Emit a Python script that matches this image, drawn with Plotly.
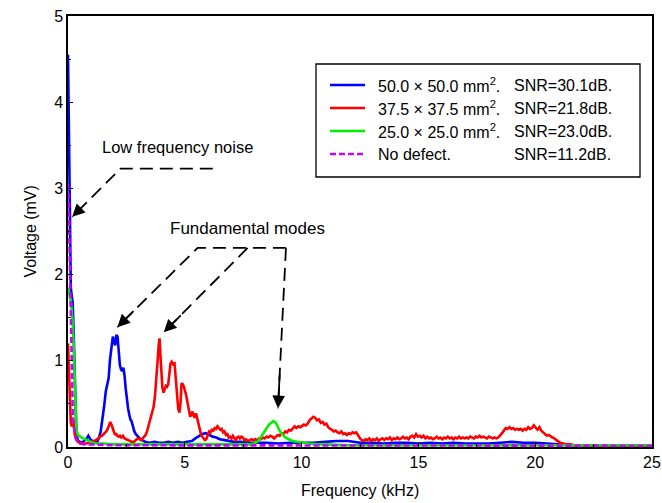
import plotly.graph_objects as go

# ---------------- spectra (frequency in kHz, voltage in mV) ----------------
blue_f = [0.00, 0.04, 0.08, 0.12, 0.16, 0.20, 0.24, 0.28, 0.32, 0.36, 0.42, 0.50, 0.60, 0.70,
          0.80, 0.87, 0.95, 1.05, 1.15, 1.25, 1.32, 1.40, 1.47, 1.55, 1.62, 1.68, 1.74, 1.80,
          1.86, 1.92, 1.97, 2.02, 2.07, 2.12, 2.17, 2.22, 2.27, 2.32, 2.37, 2.42, 2.47, 2.52,
          2.57, 2.62, 2.67, 2.72, 2.78, 2.84, 2.90, 2.96, 3.02, 3.10, 3.18, 3.30, 3.50, 3.70,
          3.90, 4.10, 4.30, 4.50, 4.70, 4.90, 5.10, 5.30, 5.45, 5.60, 5.75, 5.90, 6.05, 6.20,
          6.35, 6.50, 6.70, 6.90, 7.10, 7.40, 7.70, 8.00, 8.50, 9.00, 9.50, 10.0, 10.5, 11.0,
          11.5, 12.0, 12.5, 13.0, 13.5, 14.0, 14.5, 15.0, 15.5, 16.0, 16.5, 17.0, 17.5, 18.0,
          18.5, 19.0, 19.5, 20.0, 20.5, 21.0, 21.5, 22.0, 23.0, 24.0, 25.0]
blue_v = [4.55, 3.70, 2.70, 1.85, 1.75, 1.68, 1.35, 0.85, 0.40, 0.15, 0.08, 0.06, 0.05, 0.07,
          0.10, 0.13, 0.09, 0.07, 0.06, 0.06, 0.10, 0.18, 0.30, 0.48, 0.65, 0.74, 0.80, 1.02,
          1.18, 1.28, 1.22, 1.18, 1.30, 1.28, 1.12, 0.95, 0.90, 0.88, 0.92, 0.83, 0.68, 0.55,
          0.45, 0.38, 0.32, 0.30, 0.22, 0.18, 0.15, 0.13, 0.12, 0.09, 0.08, 0.06, 0.05, 0.06,
          0.05, 0.05, 0.06, 0.05, 0.06, 0.05, 0.06, 0.07, 0.10, 0.13, 0.15, 0.16, 0.14, 0.12,
          0.11, 0.09, 0.08, 0.07, 0.06, 0.06, 0.05, 0.05, 0.05, 0.04, 0.05, 0.05, 0.05, 0.06,
          0.07, 0.07, 0.05, 0.05, 0.04, 0.05, 0.05, 0.04, 0.05, 0.04, 0.05, 0.04, 0.04, 0.04,
          0.05, 0.06, 0.05, 0.05, 0.04, 0.03, 0.02, 0.02, 0.02, 0.02, 0.02]

red_f = [0.00, 0.04, 0.08, 0.12, 0.16, 0.20, 0.24, 0.28, 0.34, 0.42, 0.50, 0.60, 0.70, 0.80,
         0.90, 1.00, 1.10, 1.20, 1.30, 1.37, 1.45, 1.52, 1.58, 1.64, 1.70, 1.76, 1.81, 1.86,
         1.91, 1.96, 2.01, 2.06, 2.11, 2.17, 2.22, 2.28, 2.35, 2.42, 2.50, 2.58, 2.66, 2.74,
         2.82, 2.90, 2.98, 3.06, 3.14, 3.22, 3.30, 3.38, 3.45, 3.52, 3.59, 3.66, 3.72, 3.78,
         3.83, 3.88, 3.92, 3.96, 4.00, 4.04, 4.09, 4.14, 4.19, 4.24, 4.29, 4.34, 4.39, 4.44,
         4.50, 4.56, 4.62, 4.67, 4.72, 4.77, 4.82, 4.86, 4.91, 4.96, 5.01, 5.06, 5.12, 5.17,
         5.23, 5.28, 5.33, 5.38, 5.43, 5.48, 5.53, 5.58, 5.64, 5.69, 5.75, 5.80, 5.86, 5.92,
         5.98, 6.04, 6.10, 6.16, 6.22, 6.28, 6.34, 6.40, 6.46, 6.52, 6.58, 6.64, 6.70, 6.76,
         6.82, 6.88, 6.94, 7.00, 7.06, 7.12, 7.18, 7.24, 7.30, 7.36, 7.42, 7.48, 7.55, 7.62,
         7.70, 7.78, 7.86, 7.94, 8.02, 8.10, 8.18, 8.26, 8.34, 8.42, 8.50, 8.58, 8.66, 8.74,
         8.82, 8.90, 8.98, 9.06, 9.14, 9.22, 9.30, 9.38, 9.46, 9.54, 9.62, 9.70, 9.78, 9.86,
         9.94, 10.02, 10.10, 10.18, 10.26, 10.34, 10.42, 10.50, 10.58, 10.66, 10.74, 10.82,
         10.90, 10.98, 11.06, 11.14, 11.22, 11.30, 11.38, 11.46, 11.54, 11.62, 11.70, 11.78,
         11.86, 11.94, 12.02, 12.10, 12.18, 12.26, 12.34, 12.42, 12.50, 12.58, 12.66, 12.74,
         12.82, 12.90, 12.98, 13.06, 13.14, 13.22, 13.30, 13.38, 13.46, 13.54, 13.62, 13.70,
         13.78, 13.86, 13.94, 14.02, 14.10, 14.18, 14.26, 14.34, 14.42, 14.50, 14.58, 14.66,
         14.74, 14.82, 14.90, 14.98, 15.06, 15.14, 15.22, 15.30, 15.38, 15.46, 15.54, 15.62,
         15.70, 15.78, 15.86, 15.94, 16.02, 16.10, 16.18, 16.26, 16.34, 16.42, 16.50, 16.58,
         16.66, 16.74, 16.82, 16.90, 16.98, 17.06, 17.14, 17.22, 17.30, 17.38, 17.46, 17.54,
         17.62, 17.70, 17.78, 17.86, 17.94, 18.02, 18.10, 18.18, 18.26, 18.34, 18.42, 18.50,
         18.58, 18.66, 18.74, 18.82, 18.90, 18.98, 19.06, 19.14, 19.22, 19.30, 19.38, 19.46,
         19.54, 19.62, 19.70, 19.78, 19.86, 19.94, 20.02, 20.10, 20.18, 20.26, 20.34, 20.42,
         20.50, 20.58, 20.66, 20.74, 20.82, 20.90, 20.98, 21.06, 21.20, 21.35, 21.50, 21.70,
         22.0, 22.5, 23.0, 24.0, 25.0]
red_v = [1.20, 0.85, 0.50, 0.28, 0.24, 0.34, 0.30, 0.16, 0.09, 0.06, 0.05, 0.04, 0.04, 0.04,
         0.05, 0.06, 0.07, 0.08, 0.10, 0.12, 0.13, 0.15, 0.17, 0.18, 0.21, 0.26, 0.29, 0.26,
         0.21, 0.17, 0.14, 0.16, 0.13, 0.12, 0.13, 0.11, 0.13, 0.10, 0.09, 0.08, 0.07, 0.06,
         0.06, 0.08, 0.10, 0.09, 0.08, 0.11, 0.13, 0.18, 0.25, 0.31, 0.37, 0.46, 0.58, 0.75,
         0.98, 1.18, 1.26, 1.05, 0.82, 0.69, 0.63, 0.66, 0.71, 0.70, 0.73, 0.85, 0.97, 0.99,
         0.96, 0.97, 0.80, 0.60, 0.44, 0.40, 0.52, 0.74, 0.73, 0.70, 0.66, 0.60, 0.51, 0.42,
         0.35, 0.38, 0.41, 0.36, 0.34, 0.39, 0.33, 0.27, 0.20, 0.15, 0.12, 0.10, 0.08, 0.09,
         0.14, 0.18, 0.17, 0.20, 0.19, 0.22, 0.21, 0.24, 0.22, 0.20, 0.21, 0.17, 0.18, 0.14,
         0.15, 0.11, 0.12, 0.10, 0.13, 0.11, 0.08, 0.11, 0.12, 0.10, 0.12, 0.11, 0.08, 0.09,
         0.07, 0.08, 0.09, 0.08, 0.09, 0.08, 0.10, 0.09, 0.11, 0.10, 0.12, 0.11, 0.13, 0.12,
         0.10, 0.12, 0.14, 0.13, 0.16, 0.15, 0.18, 0.17, 0.20, 0.19, 0.22, 0.24, 0.22, 0.24,
         0.23, 0.25, 0.26, 0.25, 0.27, 0.31, 0.33, 0.35, 0.34, 0.31, 0.32, 0.28,
         0.29, 0.26, 0.27, 0.23, 0.21, 0.20, 0.18, 0.19, 0.17, 0.16, 0.18, 0.15,
         0.16, 0.14, 0.16, 0.15, 0.17, 0.16, 0.17, 0.13, 0.10, 0.08, 0.07, 0.09,
         0.08, 0.10, 0.07, 0.09, 0.08, 0.10, 0.07, 0.09, 0.10, 0.08, 0.10, 0.09,
         0.11, 0.08, 0.10, 0.09, 0.11, 0.09, 0.10, 0.12, 0.10, 0.11, 0.09, 0.12,
         0.13, 0.11, 0.15, 0.12, 0.13, 0.11, 0.13, 0.10, 0.12, 0.10, 0.11, 0.09,
         0.10, 0.12, 0.10, 0.11, 0.09, 0.11, 0.10, 0.12, 0.10, 0.11, 0.09, 0.11,
         0.10, 0.12, 0.10, 0.11, 0.10, 0.11, 0.10, 0.12, 0.11, 0.10, 0.12, 0.11,
         0.13, 0.11, 0.12, 0.11, 0.10, 0.12, 0.11, 0.10, 0.11, 0.10, 0.11, 0.13,
         0.16, 0.19, 0.22, 0.21, 0.23, 0.21, 0.22, 0.20, 0.21, 0.20, 0.21, 0.19,
         0.21, 0.20, 0.23, 0.21, 0.22, 0.25, 0.22, 0.20, 0.23, 0.19, 0.17, 0.15,
         0.13, 0.14, 0.12, 0.11, 0.10, 0.08, 0.06, 0.05, 0.04, 0.03, 0.03, 0.02,
         0.02, 0.015, 0.01, 0.01, 0.01]

green_f = [0.00, 0.04, 0.08, 0.12, 0.16, 0.20, 0.24, 0.28, 0.32, 0.36, 0.42, 0.50, 0.58, 0.66,
           0.74, 0.82, 0.92, 1.05, 1.20, 1.50, 2.00, 3.00, 4.00, 5.00, 6.00, 7.00, 7.60, 7.80,
           7.95, 8.10, 8.20, 8.30, 8.40, 8.50, 8.60, 8.70, 8.78, 8.86, 8.94, 9.02, 9.10, 9.20,
           9.30, 9.45, 9.60, 9.80, 10.0, 10.3, 10.6, 11.0, 12.0, 14.0, 16.0, 18.0, 20.0, 22.0,
           25.0]
green_v = [1.85, 1.76, 1.74, 1.70, 1.60, 1.45, 1.20, 0.75, 0.35, 0.20, 0.14, 0.12, 0.11, 0.10,
           0.09, 0.08, 0.06, 0.05, 0.04, 0.04, 0.03, 0.03, 0.03, 0.03, 0.03, 0.03, 0.03, 0.03,
           0.04, 0.06, 0.09, 0.13, 0.18, 0.22, 0.26, 0.28, 0.30, 0.29, 0.26, 0.21, 0.17, 0.14,
           0.11, 0.09, 0.07, 0.06, 0.05, 0.04, 0.03, 0.03, 0.02, 0.02, 0.02, 0.02, 0.02, 0.02,
           0.02]

magenta_f = [0.00, 0.03, 0.06, 0.09, 0.12, 0.15, 0.18, 0.21, 0.24, 0.28, 0.32, 0.36, 0.42,
             0.50, 0.70, 1.00, 2.00, 5.00, 10.0, 15.0, 20.0, 25.0]
magenta_v = [3.05, 2.85, 2.40, 1.95, 1.45, 0.95, 0.55, 0.32, 0.24, 0.19, 0.14, 0.09, 0.06,
             0.04, 0.03, 0.03, 0.02, 0.02, 0.015, 0.015, 0.015, 0.015]

series_labels = ["50.0 × 50.0 mm<sup>2</sup>.", "37.5 × 37.5 mm<sup>2</sup>.",
                 "25.0 × 25.0 mm<sup>2</sup>.", "No defect."]
snr_labels = ["SNR=30.1dB.", "SNR=21.8dB.", "SNR=23.0dB.", "SNR=11.2dB."]
colors = ["#0000ff", "#ff0000", "#00f000", "#cc00ff"]
dashes = ["solid", "solid", "solid", "6px,3px"]

x_ticks = [0, 5, 10, 15, 20, 25]
y_ticks = [0, 1, 2, 3, 4, 5]

FONT = "Liberation Sans, Arial, sans-serif"

fig = go.Figure()
for f, v, c, d in zip([blue_f, red_f, green_f, magenta_f],
                      [blue_v, red_v, green_v, magenta_v], colors, dashes):
    fig.add_trace(go.Scatter(x=f, y=v, mode="lines",
                             line=dict(color=c, width=2.6, dash=d),
                             showlegend=False, hoverinfo="skip"))

# ---------------- dashed leader lines with arrowheads ----------------
leader = dict(color="black", width=1.8, dash="13px,7px")
leaders = [
    ([6.2, 2.25, 0.18], [3.23, 3.23, 2.67]),
    ([9.33, 5.55, 2.11], [2.31, 2.31, 1.39]),
    ([7.69, 4.10], [2.31, 1.33]),
    ([9.33, 8.99], [2.31, 0.45]),
]
for xs, ys in leaders:
    path = "M " + " L ".join(f"{a},{b}" for a, b in zip(xs, ys))
    fig.add_shape(type="path", path=path, xref="x", yref="y", line=leader)
    # arrowhead on the last segment
    tx, ty = xs[-1], ys[-1]
    px, py = xs[-2], ys[-2]
    fig.add_annotation(x=tx, y=ty, ax=tx + 0.22 * (px - tx), ay=ty + 0.22 * (py - ty),
                       xref="x", yref="y", axref="x", ayref="y", text="",
                       showarrow=True, arrowhead=2, arrowsize=1.4, arrowwidth=1.8,
                       arrowcolor="black")

fig.add_annotation(x=4.7, y=3.48, xref="x", yref="y", text="Low frequency noise",
                   showarrow=False, font=dict(family=FONT, size=16.5, color="black"))
fig.add_annotation(x=7.7, y=2.53, xref="x", yref="y", text="Fundamental modes",
                   showarrow=False, font=dict(family=FONT, size=17, color="black"))

# ---------------- legend box ----------------
def px2paper(px, py):
    return (px - 68) / 584, (447 - py) / 431

x0, y0 = px2paper(316, 64)
x1, y1 = px2paper(640, 177)
fig.add_shape(type="rect", xref="paper", yref="paper", x0=x0, y0=y1, x1=x1, y1=y0,
              line=dict(color="black", width=1.3), fillcolor="white", layer="above")
rows_py = [85, 108, 131, 154]
for lab, snr, c, d, rpy in zip(series_labels, snr_labels, colors, dashes, rows_py):
    lx0, ly = px2paper(330, rpy)
    lx1, _ = px2paper(365, rpy)
    fig.add_shape(type="line", xref="paper", yref="paper", x0=lx0, x1=lx1, y0=ly, y1=ly,
                  line=dict(color=c, width=2.6, dash=d), layer="above")
    tx, _ = px2paper(376, rpy)
    fig.add_annotation(x=tx, y=ly, xref="paper", yref="paper", text=lab, showarrow=False,
                       xanchor="left", yanchor="middle",
                       font=dict(family=FONT, size=16, color="black"))
    sx, _ = px2paper(512, rpy)
    fig.add_annotation(x=sx, y=ly, xref="paper", yref="paper", text=snr, showarrow=False,
                       xanchor="left", yanchor="middle",
                       font=dict(family=FONT, size=16, color="black"))

# ---------------- axis titles ----------------
fig.add_annotation(x=0.5, y=-0.1, xref="paper", yref="paper", text="Frequency (kHz)",
                   showarrow=False, xanchor="center", yanchor="middle",
                   font=dict(family=FONT, size=16, color="black"))
fig.add_annotation(x=-0.065, y=0.5, xref="paper", yref="paper", text="Voltage (mV)",
                   showarrow=False, textangle=-90, xanchor="center", yanchor="middle",
                   font=dict(family=FONT, size=16, color="black"))

axis_common = dict(showline=True, linecolor="black", linewidth=1.5, mirror=True,
                   ticks="inside", ticklen=5, tickwidth=1.2, tickcolor="black",
                   showgrid=False, zeroline=False, automargin=False,
                   tickfont=dict(family=FONT, size=16, color="black"))
fig.update_xaxes(range=[0, 25], tickvals=x_ticks, ticktext=[str(t) for t in x_ticks],
                 minor=dict(ticks="inside", dtick=2.5, ticklen=3, tickcolor="black"),
                 **axis_common)
fig.update_yaxes(range=[0, 5], tickvals=y_ticks, ticktext=[str(t) for t in y_ticks],
                 minor=dict(ticks="inside", dtick=0.5, ticklen=3, tickcolor="black"),
                 **axis_common)

fig.update_layout(width=662, height=503, margin=dict(l=68, r=10, t=16, b=56),
                  plot_bgcolor="white", paper_bgcolor="white",
                  font=dict(family=FONT, color="black"))

fig.write_html("out.html")
